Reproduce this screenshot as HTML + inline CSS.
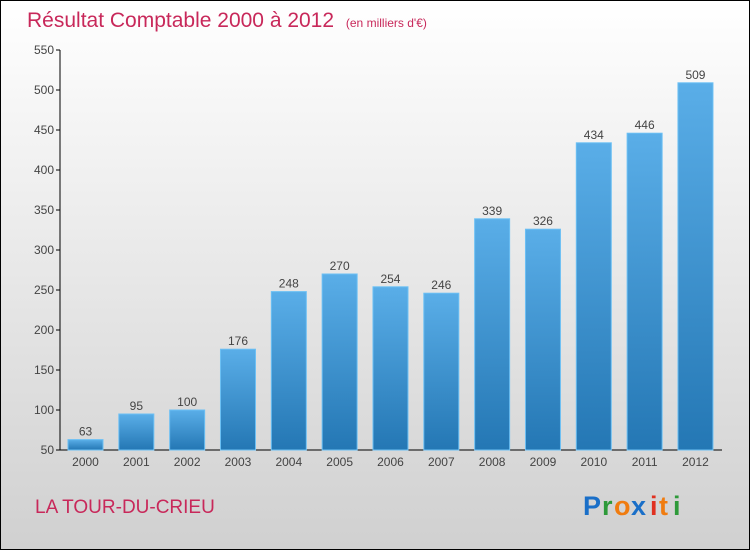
<!DOCTYPE html>
<html><head><meta charset="utf-8"><style>
body{margin:0}
svg text{font-family:"Liberation Sans",sans-serif}
</style></head><body>
<svg width="750" height="550" xmlns="http://www.w3.org/2000/svg">
<defs>
<linearGradient id="bg" x1="0" y1="0" x2="0" y2="1"><stop offset="0" stop-color="#ffffff"/><stop offset="1" stop-color="#d0d0d0"/></linearGradient>
<linearGradient id="bar" x1="0" y1="0" x2="0" y2="1"><stop offset="0" stop-color="#5aaee8"/><stop offset="1" stop-color="#2477b4"/></linearGradient>
</defs>
<rect x="0.5" y="0.5" width="749" height="549" fill="url(#bg)" stroke="#000"/>
<text x="27" y="27" font-size="21" fill="#c8285a">Résultat Comptable 2000 à 2012 <tspan font-size="12" dx="6">(en milliers d'€)</tspan></text>
<g id="axes"></g>
<g id="bars"></g>
<text x="35" y="513" font-size="19" fill="#c8285a">LA TOUR-DU-CRIEU</text>
<g font-size="27" font-weight="bold">
<text x="583" y="515" fill="#1a6fc8">P</text><text x="602" y="515" fill="#2e9a3a">r</text><text x="614" y="515" fill="#f07c10">o</text><text x="631" y="515" fill="#1a6fc8">x</text><text x="650" y="515" fill="#e03020">i</text><text x="659" y="515" fill="#f07c10">t</text><text x="673" y="515" fill="#2e9a3a">i</text>
</g>
</svg>
<script>
const years=["2000","2001","2002","2003","2004","2005","2006","2007","2008","2009","2010","2011","2012"];
const values=[63,95,100,176,248,270,254,246,339,326,434,446,509];
const ticks=[50,100,150,200,250,300,350,400,450,500,550];
const NS="http://www.w3.org/2000/svg";
const x0=60,band=50.83,bw=35,off=8;
const y=v=>450-(v-50)*0.8;
function mk(t,a,p){const e=document.createElementNS(NS,t);for(const k in a)e.setAttribute(k,a[k]);p.appendChild(e);return e;}
const ax=document.getElementById('axes'),bg=document.getElementById('bars');
const yl=mk('line',{x1:60,y1:50,x2:60,y2:450,stroke:'#000'},ax);


const xl=mk('line',{x1:60,y1:450,x2:722,y2:450,stroke:'#000'},ax);


ticks.forEach(t=>{
 mk('line',{x1:56,y1:y(t),x2:60,y2:y(t),stroke:'#000'},ax);
 const tx=mk('text',{x:54,y:y(t)+4,'font-size':12,fill:'#444','text-anchor':'end'},ax);tx.textContent=t;
 
 
});
years.forEach((yr,i)=>{
 const bx=x0+off+i*band;
 const r=mk('rect',{x:bx,y:y(values[i]),width:bw,height:450-y(values[i]),fill:'url(#bar)',stroke:'#6cc0f4','stroke-width':1},bg);
 
 
 const vl=mk('text',{x:bx+bw/2,y:y(values[i])-4,'font-size':12,fill:'#444','text-anchor':'middle'},bg);vl.textContent=values[i];
 
 
 const xt=mk('text',{x:bx+bw/2,y:466,'font-size':12,fill:'#444','text-anchor':'middle'},bg);xt.textContent=yr;
 
 
});
</script>
</body></html>
